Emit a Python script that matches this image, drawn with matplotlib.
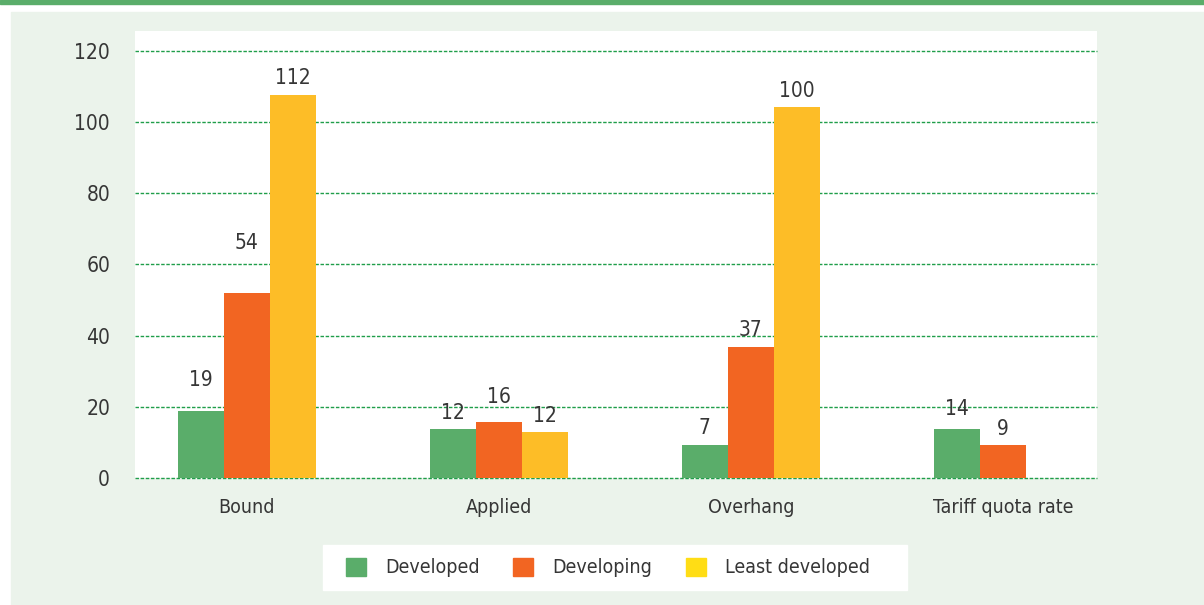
import matplotlib
matplotlib.use("Agg")
import matplotlib.pyplot as plt
import matplotlib.patches as mpatches
import numpy as np

# data
categories = ["Bound", "Applied", "Overhang", "Tariff quota rate"]
series = ["Developed", "Developing", "Least developed"]
# drawn bar heights
developed = [19, 13.8, 9.3, 13.8]
developing = [52, 15.8, 36.9, 9.3]
least_developed = [107.5, 13.0, 104.2, None]
# printed value labels
developed_labels = ["19", "12", "7", "14"]
developing_labels = ["54", "16", "37", "9"]
least_labels = ["112", "12", "100", None]
yticks = [0, 20, 40, 60, 80, 100, 120]

colors = ["#5aad6a", "#f26522", "#fdbd27"]
legend_colors = ["#5aad6a", "#f26522", "#ffdd15"]
# label offsets above bar tops (pixels)
label_offsets = [
    [31, 16, 17, 20],
    [50, 25, 17, 16],
    [17, 16, 16, None],
]

plt.rcParams["font.family"] = ["DejaVu Sans"]
plt.rcParams["font.stretch"] = "condensed"
FS = 14
TXT = "#363636"
W, H = 1204, 605
fig = plt.figure(figsize=(W / 100, H / 100), dpi=100, facecolor="white")

# top strip and panel background
fig.patches.append(mpatches.Rectangle((0, 1 - 4 / H), 1, 4 / H, transform=fig.transFigure,
                                      color="#5aad6a", zorder=0))
fig.patches.append(mpatches.Rectangle((11 / W, 0), 1 - 11 / W, (H - 12) / H, transform=fig.transFigure,
                                      color="#ebf3eb", zorder=0))
# legend box
fig.patches.append(mpatches.Rectangle((323 / W, 1 - 590 / H), 584 / W, 45 / H, transform=fig.transFigure,
                                      color="white", zorder=1))

ax = fig.add_axes([135 / W, (H - 478.3) / H, 962 / W, 447.3 / H])
ax.set_zorder(3)
ax.set_facecolor("white")

x = np.arange(len(categories))
width = 0.183
all_vals = [developed, developing, least_developed]
all_labels = [developed_labels, developing_labels, least_labels]
for i, (vals, labs) in enumerate(zip(all_vals, all_labels)):
    for j, v in enumerate(vals):
        if v is None:
            continue
        xpos = x[j] + (i - 1) * width
        ax.bar(xpos, v, width=width, color=colors[i], zorder=3)
        ax.annotate(labs[j], (xpos, v), xytext=(0, label_offsets[i][j] * 0.72),
                    textcoords="offset points", ha="center", va="center",
                    fontsize=FS + 1, color=TXT, zorder=4)

ax.set_xlim(-0.444, 3.373)
ax.set_ylim(0, 125.5)
ax.set_yticks(yticks)
ax.set_yticklabels([str(t) for t in yticks])
ax.set_xticks(x)
ax.set_xticklabels(categories)
ax.tick_params(axis="y", length=0, pad=18, labelsize=FS + 1, labelcolor=TXT)
ax.tick_params(axis="x", length=0, pad=14, labelsize=FS, labelcolor=TXT)
for s in ax.spines.values():
    s.set_visible(False)
ax.yaxis.grid(True, color="#1f9e4a", linestyle=(0, (2.5, 1.2)), linewidth=1.0, zorder=1)
for gl in ax.get_ygridlines():
    gl.set_clip_on(False)
ax.set_axisbelow(True)

handles = [mpatches.Patch(color=c) for c in legend_colors]
leg = fig.legend(handles, series, loc="center", bbox_to_anchor=(608 / W, 1 - 567.5 / H),
                 ncol=3, frameon=False, fontsize=FS, handlelength=1.03, handleheight=1.07,
                 handletextpad=0.97, columnspacing=1.75, labelcolor=TXT)
leg.set_zorder(5)

fig.savefig("out.png", dpi=100, facecolor=fig.get_facecolor())
